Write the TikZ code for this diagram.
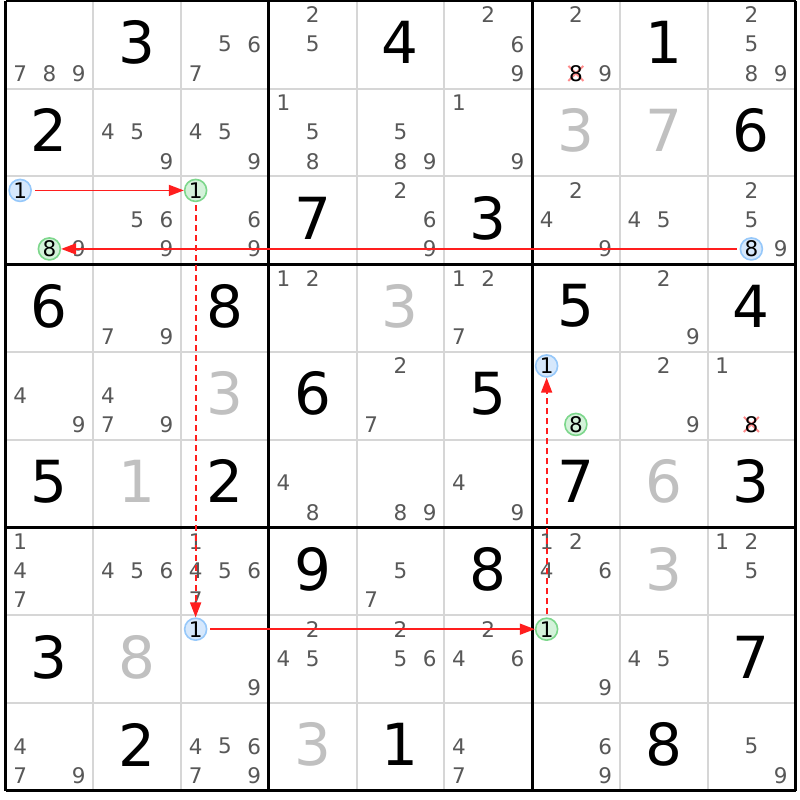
\documentclass[tikz,border=0pt]{standalone}
\usepackage{fontspec}
\setmainfont{DejaVu Sans}
\usetikzlibrary{arrows.meta}
\definecolor{candgray}{RGB}{88,88,88}
\definecolor{solvedgray}{RGB}{192,192,192}
\definecolor{gridgray}{RGB}{214,214,214}
\definecolor{bluefill}{RGB}{214,232,252}
\definecolor{bluedraw}{RGB}{150,200,250}
\definecolor{greenfill}{RGB}{212,242,218}
\definecolor{greendraw}{RGB}{125,215,140}
\definecolor{linkred}{RGB}{255,30,30}
\definecolor{crosspink}{RGB}{255,140,140}
\tikzset{
  declare function={
    cx(\a,\b)=5.5+(\a-1)*87.75+(mod(\b-1,3)+0.5)*29.25;
    cy(\a,\b)=0.8+(\a-1)*87.75+(floor((\b-1)/3)+0.5)*29.25-0.5;
    gx(\a)=5.5+(\a-0.5)*87.75;
    gy(\a)=0.8+(\a-0.5)*87.75-2;
  },
  cand/.style={inner sep=0pt, text=candgray, font=\fontsize{21.5}{21.5}\selectfont},
  given/.style={inner sep=0pt, text=black, font=\fontsize{58}{58}\selectfont},
  solved/.style={inner sep=0pt, text=solvedgray, font=\fontsize{58}{58}\selectfont},
  bluemark/.style={circle, inner sep=0pt, minimum size=22pt, draw=bluedraw, fill=bluefill, line width=1.6pt, text=black, font=\fontsize{21.5}{21.5}\selectfont},
  greenmark/.style={circle, inner sep=0pt, minimum size=22pt, draw=greendraw, fill=greenfill, line width=1.6pt, text=black, font=\fontsize{21.5}{21.5}\selectfont},
  crossed/.style={inner sep=0pt, text=black, font=\fontsize{21.5}{21.5}\selectfont},
  thinline/.style={draw=gridgray, line width=2pt},
  thickline/.style={draw=black, line width=3pt},
  solidlink/.style={draw=linkred, line width=1.5pt, -{Triangle[length=15pt,width=11pt]}, shorten <=3pt},
  dashlink/.style={solidlink, line width=1.8pt, dash pattern=on 6pt off 4pt},
}
\begin{document}
\begin{tikzpicture}[x=1pt,y=-1pt]
\useasboundingbox (0,0) rectangle (800,800);
\fill[white] (0,0) rectangle (800,800);
% grid
\foreach \i in {1,2,4,5,7,8} {
  \draw[thinline] ({5.5+\i*87.75},0.8) -- ({5.5+\i*87.75},790.5);
  \draw[thinline] (5.5,{0.8+\i*87.75}) -- (795.5,{0.8+\i*87.75});
}
\foreach \i in {0,3,6,9} {
  \draw[thickline] ({5.5+\i*87.75},0.8) -- ({5.5+\i*87.75},790.5);
  \draw[thickline] (5.5,{0.8+\i*87.75}) -- (795.5,{0.8+\i*87.75});
}
% givens
\foreach \rw/\cl/\dg in {1/2/3,1/5/4,1/8/1,2/1/2,2/9/6,3/4/7,3/6/3,4/1/6,4/3/8,4/7/5,4/9/4,5/4/6,5/6/5,6/1/5,6/3/2,6/7/7,6/9/3,7/4/9,7/6/8,8/1/3,8/9/7,9/2/2,9/5/1,9/8/8}
  \node[given] (g\rw\cl) at ({gx(\cl)},{gy(\rw)}) {\dg};
% solved (gray)
\foreach \rw/\cl/\dg in {2/7/3,2/8/7,4/5/3,5/3/3,6/2/1,6/8/6,7/8/3,8/2/8,9/4/3}
  \node[solved] (s\rw\cl) at ({gx(\cl)},{gy(\rw)}) {\dg};
% candidates
\foreach \rw/\cl/\dg in {
  1/1/7,1/1/8,1/1/9,1/3/5,1/3/6,1/3/7,1/4/2,1/4/5,1/6/2,1/6/6,1/6/9,1/7/2,1/7/9,1/9/2,1/9/5,1/9/8,1/9/9,
  2/2/4,2/2/5,2/2/9,2/3/4,2/3/5,2/3/9,2/4/1,2/4/5,2/4/8,2/5/5,2/5/8,2/5/9,2/6/1,2/6/9,
  3/1/9,3/2/5,3/2/6,3/2/9,3/3/6,3/3/9,3/5/2,3/5/6,3/5/9,3/7/2,3/7/4,3/7/9,3/8/4,3/8/5,3/9/2,3/9/5,3/9/9,
  4/2/7,4/2/9,4/4/1,4/4/2,4/6/1,4/6/2,4/6/7,4/8/2,4/8/9,
  5/1/4,5/1/9,5/2/4,5/2/7,5/2/9,5/5/2,5/5/7,5/8/2,5/8/9,5/9/1,
  6/4/4,6/4/8,6/5/8,6/5/9,6/6/4,6/6/9,
  7/1/1,7/1/4,7/1/7,7/2/4,7/2/5,7/2/6,7/3/1,7/3/4,7/3/5,7/3/6,7/3/7,7/5/5,7/5/7,7/7/1,7/7/2,7/7/4,7/7/6,7/9/1,7/9/2,7/9/5,
  8/3/9,8/4/2,8/4/4,8/4/5,8/5/2,8/5/5,8/5/6,8/6/2,8/6/4,8/6/6,8/7/9,8/8/4,8/8/5,
  9/1/4,9/1/7,9/1/9,9/3/4,9/3/5,9/3/6,9/3/7,9/3/9,9/6/4,9/6/7,9/7/6,9/7/9,9/9/5,9/9/9}
  \node[cand] (k\rw\cl\dg) at ({cx(\cl,\dg)},{cy(\rw,\dg)}) {\dg};
% crossed-out candidates
\foreach \rw/\cl/\dg in {1/7/8,5/9/8} {
  \coordinate (x\rw\cl\dg) at ({cx(\cl,\dg)},{cy(\rw,\dg)});
  \draw[crosspink, line width=2pt] ([shift={(-7.5,-7.5)}]x\rw\cl\dg) -- ([shift={(7.5,7.5)}]x\rw\cl\dg);
  \draw[crosspink, line width=2pt] ([shift={(-7.5,7.5)}]x\rw\cl\dg) -- ([shift={(7.5,-7.5)}]x\rw\cl\dg);
  \node[crossed] (k\rw\cl\dg) at (x\rw\cl\dg) {\dg};
}
% marked candidates
\foreach \rw/\cl/\dg in {3/1/1,8/3/1,5/7/1,3/9/8}
  \node[bluemark] (k\rw\cl\dg) at ({cx(\cl,\dg)},{cy(\rw,\dg)}) {\dg};
\foreach \rw/\cl/\dg in {3/3/1,8/7/1,5/7/8,3/1/8}
  \node[greenmark] (k\rw\cl\dg) at ({cx(\cl,\dg)},{cy(\rw,\dg)}) {\dg};
% links
\draw[solidlink] (k311) -- (k331);
\draw[dashlink] (k331) -- (k831);
\draw[solidlink] (k831) -- (k871);
\draw[dashlink] (k871) -- (k571);
\draw[solidlink] (k398) -- (k318);
\end{tikzpicture}
\end{document}
